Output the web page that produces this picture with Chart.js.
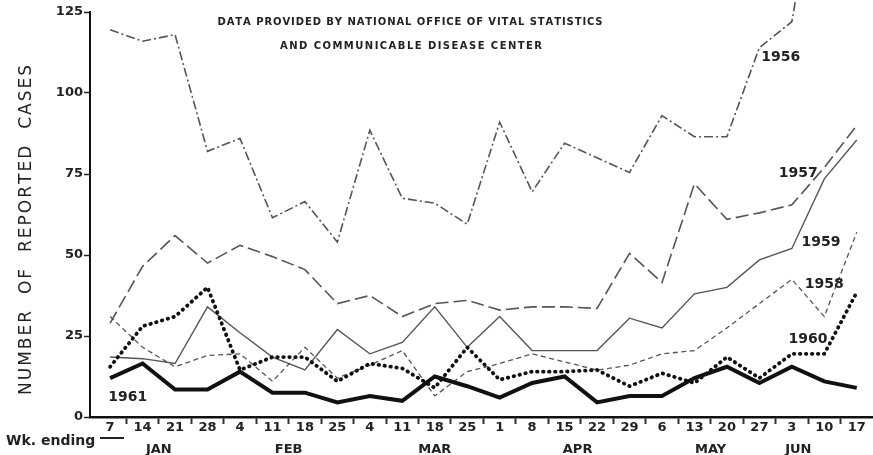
<!DOCTYPE html>
<html>
<head>
<meta charset="utf-8">
<script src="https://cdn.jsdelivr.net/npm/chart.js@4"></script>
<style>
  html, body { margin: 0; padding: 0; background: #fff; overflow: hidden; }
  #wrap { position: relative; width: 873px; height: 455px; }
</style>
</head>
<body>
<div id="wrap"><canvas id="casesChart"></canvas></div>
<script>
// week ending dates, Jan 7 .. Jun 17
const weeks = ['7', '14', '21', '28', '4', '11', '18', '25', '4', '11', '18', '25',
  '1', '8', '15', '22', '29', '6', '13', '20', '27', '3', '10', '17'];
const months = ['JAN', 'FEB', 'MAR', 'APR', 'MAY', 'JUN'];
const monthAt = [1.5, 5.5, 10, 14.4, 18.5, 21.2];
const yTicks = [0, 25, 50, 75, 100, 125];

// reported cases per week
const cases1956 = [119.5, 116, 118, 82, 86, 61.5, 66.5, 54, 88.5, 67.5, 66, 59.5,
  91, 69.5, 84.5, 80, 75.5, 93, 86.5, 86.5, 114, 122, 180, null];
const cases1957 = [29, 46.5, 56, 47.5, 53, 49.5, 45.5, 35, 37.5, 31, 35, 36,
  33, 34, 34, 33.5, 50.5, 41.5, 72, 61, 63, 65.5, 77, 90];
const cases1958 = [31, 21.5, 15.5, 19, 19.5, 11, 21.5, 12, 16, 20.5, 6.5, 14,
  16.5, 19.5, 17, 14.5, 16, 19.5, 20.5, 27.5, 35, 42.5, 31, 57];
const cases1959 = [18.5, 18, 16.5, 34, 26, 18.5, 14.5, 27, 19.5, 23, 34, 21.5,
  31, 20.5, 20.5, 20.5, 30.5, 27.5, 38, 40, 48.5, 52, 73.5, 85.5];
const cases1960 = [15.5, 28, 31, 40, 14.5, 18.5, 18.5, 11, 16.5, 15, 9, 21.5,
  11.5, 14, 14, 14.5, 9.5, 13.5, 10.5, 18.5, 12, 19.5, 19.5, 38.5];
const cases1961 = [12, 16.5, 8.5, 8.5, 14, 7.5, 7.5, 4.5, 6.5, 5, 12.5, 9.5,
  6, 10.5, 12.5, 4.5, 6.5, 6.5, 12, 15.5, 10.5, 15.5, 11, 9];

const FONT = "'DejaVu Sans', sans-serif";
const INK = '#222';
const X_MIN = -0.62, X_MAX = 23.5;

const toPoints = (arr) => arr.map((v, i) => ({ x: i, y: v }));

const line = (label, data, color, width, dash, extra) => Object.assign({
  label,
  data: toPoints(data),
  borderColor: color,
  borderWidth: width,
  borderDash: dash,
  pointRadius: 0,
  fill: false,
  tension: 0,
  borderJoinStyle: 'miter'
}, extra || {});

const datasets = [
  line('1961', cases1961, '#111', 4, []),
  line('1960', cases1960, '#111', 3.8, [0.5, 5.5], { borderCapStyle: 'round', borderJoinStyle: 'round' }),
  line('1959', cases1959, '#555', 1.4, []),
  line('1958', cases1958, '#555', 1.3, [5, 3.5]),
  line('1957', cases1957, '#555', 1.6, [13, 5]),
  line('1956', cases1956, '#555', 1.6, [9, 3, 2, 3], { clip: { left: 0, top: 14, right: 0, bottom: 0 } })
];

// letters spread out to fill a given width
function spacedText(ctx, text, cx, cy, width) {
  const chars = [...text];
  const widths = chars.map(c => ctx.measureText(c).width);
  const total = widths.reduce((a, b) => a + b, 0);
  const gap = chars.length > 1 ? (width - total) / (chars.length - 1) : 0;
  let x = cx - width / 2;
  ctx.textAlign = 'left';
  ctx.textBaseline = 'middle';
  chars.forEach((c, i) => {
    ctx.fillText(c, x, cy);
    x += widths[i] + gap;
  });
}

const yearTags = [
  { text: '1956', x: 20.06, y: 111 },
  { text: '1957', x: 20.6, y: 75.3 },
  { text: '1959', x: 21.3, y: 54 },
  { text: '1958', x: 21.4, y: 41 },
  { text: '1960', x: 20.9, y: 24 },
  { text: '1961', x: -0.06, y: 6 }
];

const textPlugin = {
  id: 'chartText',
  afterDraw(chart) {
    const { ctx, scales } = chart;
    ctx.save();
    ctx.fillStyle = INK;

    // source note
    ctx.font = `bold 10px ${FONT}`;
    spacedText(ctx, 'DATA PROVIDED BY NATIONAL OFFICE OF VITAL STATISTICS', 410, 22, 385);
    spacedText(ctx, 'AND COMMUNICABLE DISEASE CENTER', 411, 46, 262);

    // series tags
    ctx.font = `bold 14px ${FONT}`;
    ctx.textAlign = 'left';
    ctx.textBaseline = 'middle';
    yearTags.forEach(t => {
      ctx.fillText(t.text, scales.x.getPixelForValue(t.x), scales.y.getPixelForValue(t.y));
    });

    // y axis title
    ctx.save();
    ctx.translate(27, 230);
    ctx.rotate(-Math.PI / 2);
    ctx.font = `17px ${FONT}`;
    spacedText(ctx, 'NUMBER  OF  REPORTED  CASES', 0, 0, 330);
    ctx.restore();

    // "Wk. ending" lead
    ctx.font = `bold 14px ${FONT}`;
    ctx.textAlign = 'left';
    ctx.textBaseline = 'middle';
    ctx.fillText('Wk. ending', 6, 441);
    ctx.strokeStyle = INK;
    ctx.lineWidth = 2;
    ctx.beginPath();
    ctx.moveTo(100, 438);
    ctx.lineTo(124, 438);
    ctx.stroke();
    ctx.restore();
  }
};

const tickFont = { family: FONT, size: 13, weight: 'bold' };

new Chart(document.getElementById('casesChart'), {
  type: 'line',
  data: { datasets },
  options: {
    responsive: true,
    maintainAspectRatio: false,
    animation: false,
    layout: { padding: { top: 12, right: 0, bottom: 0, left: 0 } },
    plugins: {
      legend: { display: false },
      title: { display: false },
      tooltip: { enabled: false }
    },
    scales: {
      x: {
        type: 'linear',
        position: 'bottom',
        min: X_MIN,
        max: X_MAX,
        afterBuildTicks: (scale) => {
          const t = [];
          for (let i = 0; i < weeks.length; i++) {
            t.push({ value: i });
            if (i < weeks.length - 1) t.push({ value: i + 0.5 });
          }
          scale.ticks = t;
        },
        afterFit: (scale) => { scale.height = 22; },
        ticks: {
          autoSkip: false,
          maxRotation: 0,
          padding: -4,
          color: INK,
          font: tickFont,
          callback: (v) => Number.isInteger(v) ? weeks[v] : ''
        },
        grid: {
          drawOnChartArea: false,
          tickLength: 7,
          tickWidth: 2,
          tickColor: (c) => (c.tick && !Number.isInteger(c.tick.value)) ? '#333' : 'rgba(0,0,0,0)'
        },
        border: { color: '#111', width: 2.5 }
      },
      months: {
        type: 'linear',
        position: 'bottom',
        min: X_MIN,
        max: X_MAX,
        afterBuildTicks: (scale) => { scale.ticks = monthAt.map(v => ({ value: v })); },
        afterFit: (scale) => { scale.height = 16; },
        ticks: {
          autoSkip: false,
          maxRotation: 0,
          padding: 3,
          color: INK,
          font: tickFont,
          callback: (v) => months[monthAt.indexOf(v)]
        },
        grid: { display: false, drawTicks: false, tickLength: 0 },
        border: { display: false }
      },
      y: {
        min: 0,
        max: 125,
        afterBuildTicks: (scale) => { scale.ticks = yTicks.map(v => ({ value: v })); },
        afterFit: (scale) => { scale.width = 90; },
        ticks: {
          padding: 1,
          color: INK,
          font: tickFont
        },
        grid: {
          drawOnChartArea: false,
          tickLength: 6,
          tickWidth: 1.5,
          tickColor: INK
        },
        border: { color: '#111', width: 2 }
      }
    }
  },
  plugins: [textPlugin]
});
</script>
</body>
</html>
